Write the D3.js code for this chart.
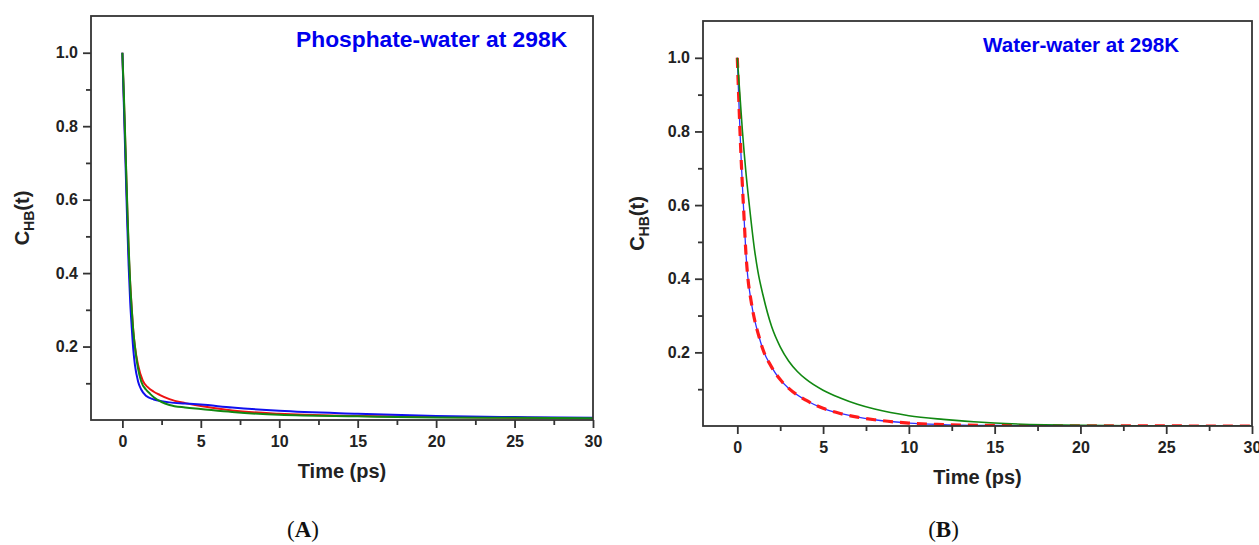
<!DOCTYPE html>
<html>
  <head>
    <meta charset="utf-8">
    <script src="https://d3js.org/d3.v7.min.js"></script>
    <title>Hydrogen bond correlation</title>
    <style>
      body {
        margin: 0px;
        background: #fff;
      }
      .domain {
        display: none;
      }
      .tick line {
        stroke: #333;
        stroke-width: 1.8;
      }
      .tick text {
        fill: #222;
        font-size: 16px;
        font-weight: bold;
        font-family: "Liberation Sans", Arial, sans-serif;
      }
      .axis-label {
        fill: #222;
        font-size: 20px;
        font-weight: bold;
        font-family: "Liberation Sans", Arial, sans-serif;
      }
      .title {
        fill: #0000ee;
        font-weight: bold;
        font-family: "Liberation Sans", Arial, sans-serif;
      }
      .panel-label {
        fill: #111;
        font-size: 23px;
        font-family: "Liberation Serif", "Times New Roman", serif;
      }
    </style>
  </head>
  <body>
    <svg width="1259" height="545"></svg>
    <script>

      // time axis values (ps) and C_HB(t)
      const aBlueT  = [0, 0.1, 0.2, 0.3, 0.4, 0.5, 0.6, 0.7, 0.8, 1.0, 1.2, 1.5, 2, 2.5, 3, 4, 5, 7, 10, 15, 20, 25, 30];
      const aBlueC  = [1.0, 0.85, 0.7, 0.55, 0.42, 0.32, 0.25, 0.19, 0.15, 0.105, 0.083, 0.066, 0.056, 0.051, 0.048, 0.045, 0.042, 0.034, 0.025, 0.017, 0.011, 0.008, 0.006];
      const aRedT   = [0, 0.1, 0.2, 0.3, 0.4, 0.5, 0.6, 0.7, 0.8, 1.0, 1.3, 1.6, 2, 2.4, 3, 4, 5, 7, 10, 15, 20, 25, 30];
      const aRedC   = [1.0, 0.87, 0.73, 0.59, 0.46, 0.37, 0.3, 0.24, 0.2, 0.15, 0.107, 0.09, 0.077, 0.068, 0.057, 0.046, 0.038, 0.026, 0.017, 0.011, 0.008, 0.006, 0.005];
      const aGreenT = [0, 0.1, 0.2, 0.3, 0.4, 0.5, 0.6, 0.7, 0.8, 1.0, 1.2, 1.5, 1.75, 2, 2.5, 3, 4, 5, 7, 10, 15, 20, 25, 30];
      const aGreenC = [1.0, 0.88, 0.74, 0.6, 0.47, 0.37, 0.3, 0.24, 0.2, 0.14, 0.105, 0.083, 0.072, 0.062, 0.049, 0.041, 0.034, 0.03, 0.022, 0.014, 0.01, 0.007, 0.006, 0.005];

      const bBlueT  = [0, 0.1, 0.2, 0.3, 0.4, 0.5, 0.6, 0.8, 1.0, 1.25, 1.5, 2, 2.5, 3, 4, 5, 6, 7, 8, 10, 12, 15, 20, 30];
      const bBlueC  = [1.0, 0.87, 0.75, 0.65, 0.56, 0.47, 0.41, 0.34, 0.29, 0.245, 0.207, 0.16, 0.126, 0.102, 0.07, 0.048, 0.034, 0.024, 0.017, 0.008, 0.004, 0.0015, 0.0003, 0];
      const bRedT   = [0, 0.1, 0.2, 0.3, 0.4, 0.5, 0.6, 0.8, 1.0, 1.25, 1.5, 2, 2.5, 3, 4, 5, 6, 7, 8, 10, 12, 15, 20, 30];
      const bRedC   = [1.0, 0.87, 0.75, 0.65, 0.56, 0.47, 0.41, 0.34, 0.29, 0.245, 0.207, 0.16, 0.126, 0.102, 0.07, 0.048, 0.034, 0.024, 0.017, 0.008, 0.004, 0.0015, 0.0003, 0];
      const bGreenT = [0, 0.15, 0.3, 0.5, 0.7, 1.0, 1.2, 1.5, 2, 2.5, 3, 3.5, 4, 5, 6, 7, 8, 10, 12, 15, 20, 25, 30];
      const bGreenC = [1.0, 0.9, 0.8, 0.69, 0.6, 0.48, 0.42, 0.355, 0.27, 0.215, 0.176, 0.148, 0.127, 0.097, 0.076, 0.059, 0.046, 0.028, 0.018, 0.008, 0.002, 0.0005, 0];

      const xTicks = [0, 5, 10, 15, 20, 25, 30];
      const xMinorTicks = [2.5, 7.5, 12.5, 17.5, 22.5, 27.5];
      const yTicks = [0.2, 0.4, 0.6, 0.8, 1.0];
      const yMinorTicks = [0.1, 0.3, 0.5, 0.7, 0.9];

      const zip = (ts, cs) => ts.map((t, i) => ({ t: t, c: cs[i] }));

      const panels = [
        {
          id: 'A',
          box: { left: 91, top: 16, right: 593, bottom: 420 },
          title: 'Phosphate-water at 298K', titleX: 296, titleY: 47, titleSize: 22.8,
          yLabelX: 22, labelShift: -39,
          series: [
            { data: zip(aRedT, aRedC), color: '#ee1111', width: 2 },
            { data: zip(aBlueT, aBlueC), color: '#1010ee', width: 2 },
            { data: zip(aGreenT, aGreenC), color: '#118811', width: 2 }
          ]
        },
        {
          id: 'B',
          box: { left: 703, top: 21, right: 1252, bottom: 426 },
          title: 'Water-water at 298K', titleX: 983, titleY: 52, titleSize: 20.6,
          yLabelX: 637, labelShift: -34,
          series: [
            { data: zip(bBlueT, bBlueC), color: '#3030ff', width: 1.3 },
            { data: zip(bRedT, bRedC), color: '#ff1a1a', width: 3.2, dash: '10,7' },
            { data: zip(bGreenT, bGreenC), color: '#118811', width: 1.6 }
          ]
        }
      ];

      const svg = d3.select('svg');

      panels.forEach(p => {
        const innerWidth = p.box.right - p.box.left;
        const innerHeight = p.box.bottom - p.box.top;
        const g = svg.append('g')
            .attr('transform', `translate(${p.box.left},${p.box.top})`);

        const xScale = d3.scaleLinear().domain([-2, 30]).range([0, innerWidth]);
        const yScale = d3.scaleLinear().domain([0, 1.1]).range([innerHeight, 0]);

        g.append('clipPath').attr('id', 'clip' + p.id)
          .append('rect')
            .attr('width', innerWidth)
            .attr('height', innerHeight);

        const line = d3.line()
          .x(d => xScale(d.t))
          .y(d => yScale(d.c))
          .curve(d3.curveMonotoneX);

        const curves = g.append('g').attr('clip-path', `url(#clip${p.id})`);
        p.series.forEach(s => {
          curves.append('path')
            .datum(s.data)
            .attr('d', line)
            .attr('fill', 'none')
            .attr('stroke', s.color)
            .attr('stroke-width', s.width)
            .attr('stroke-dasharray', s.dash || null)
            .attr('stroke-linejoin', 'round');
        });

        // major and minor ticks
        g.append('g')
            .attr('transform', `translate(0,${innerHeight})`)
            .call(d3.axisBottom(xScale).tickValues(xTicks).tickSize(8).tickPadding(8).tickFormat(d3.format('d')));
        g.append('g')
            .attr('transform', `translate(0,${innerHeight})`)
            .call(d3.axisBottom(xScale).tickValues(xMinorTicks).tickSize(5).tickFormat(''));
        g.append('g')
            .call(d3.axisLeft(yScale).tickValues(yTicks).tickSize(8).tickPadding(5).tickFormat(d3.format('.1f')));
        g.append('g')
            .call(d3.axisLeft(yScale).tickValues(yMinorTicks).tickSize(5).tickFormat(''));

        // frame
        g.append('rect')
            .attr('width', innerWidth)
            .attr('height', innerHeight)
            .attr('fill', 'none')
            .attr('stroke', '#333')
            .attr('stroke-width', 1.8);

        g.append('text')
            .attr('class', 'axis-label')
            .attr('x', innerWidth / 2)
            .attr('y', innerHeight + 58)
            .attr('text-anchor', 'middle')
            .text('Time (ps)');

        const yl = svg.append('text')
            .attr('class', 'axis-label')
            .attr('transform', `translate(${p.yLabelX + 7},${p.box.top + innerHeight / 2}) rotate(-90)`)
            .attr('text-anchor', 'middle');
        yl.append('tspan').text('C');
        yl.append('tspan').attr('font-size', '14px').attr('dy', 5).text('HB');
        yl.append('tspan').attr('dy', -5).text('(t)');

        svg.append('text')
            .attr('class', 'title')
            .attr('x', p.titleX)
            .attr('y', p.titleY)
            .style('font-size', p.titleSize + 'px')
            .text(p.title);

        const pl = svg.append('text')
            .attr('class', 'panel-label')
            .attr('x', p.box.left + innerWidth / 2 + p.labelShift)
            .attr('y', 537)
            .attr('text-anchor', 'middle');
        pl.append('tspan').text('(');
        pl.append('tspan').attr('font-weight', 'bold').text(p.id);
        pl.append('tspan').text(')');
      });
    </script>
  </body>
</html>
